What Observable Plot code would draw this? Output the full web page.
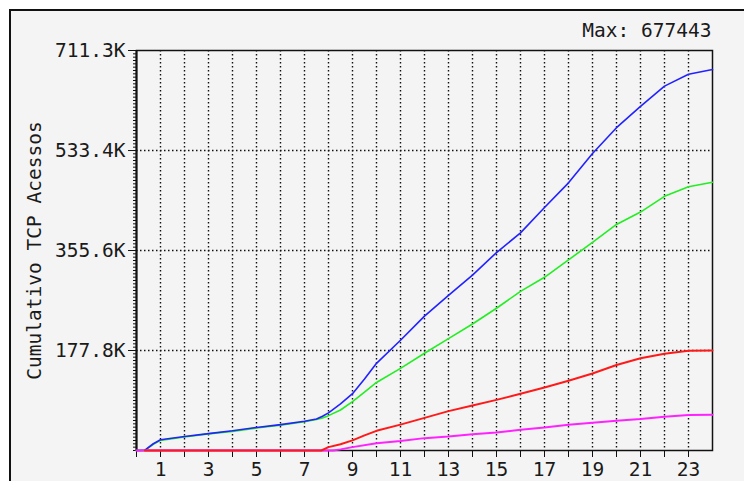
<!DOCTYPE html>
<html><head><meta charset="utf-8">
<script src="https://cdn.jsdelivr.net/npm/d3@7"></script>
<script src="https://cdn.jsdelivr.net/npm/@observablehq/plot@0.6"></script>
<style>
html,body{margin:0;padding:0;background:#fff;overflow:hidden;width:744px;height:481px;}
#panel{position:absolute;left:9px;top:9px;width:800px;height:600px;background:#f4f4f4;border-left:2.5px solid #111;border-top:2.5px solid #111;}
#chart{position:absolute;left:0;top:0;}
</style></head><body>
<div id="panel"></div><div id="chart"></div>
<script>
// values in thousands of accesses, cumulative by hour of day
const totalHours = [0, 0.35, 0.7, 1, 2, 3, 4, 5, 6, 7, 7.5, 7.75, 8, 8.5, 9, 9.5, 10, 11, 12, 13, 14, 15, 16, 17, 18, 19, 20, 21, 22, 23, 24];
const blueValues  = [0, 0.5, 12, 19, 25, 30, 35, 41, 46, 52, 56, 61, 67, 83, 101, 127, 155, 196, 239, 276, 312, 352, 387, 432, 476, 528, 574, 612, 648, 669, 677.443];
const greenValues = [0, 0.3, 11, 18, 24, 29.5, 34, 40, 45, 51, 55, 58, 62, 72, 87, 104, 121, 146, 173, 199, 225, 253, 283, 308, 339, 370, 402, 424, 452, 469, 477];
const redHours  = [0.35, 7.7, 8, 8.5, 9, 9.5, 10, 11, 12, 13, 14, 15, 16, 17, 18, 19, 20, 21, 22, 23, 24];
const redValues = [0, 0, 6, 11, 18, 27, 35, 46, 58, 70, 80, 90, 101, 112, 124, 137, 152, 164, 172, 177.5, 177.8];
const magentaHours  = [0, 8.2, 8.5, 9, 10, 11, 12, 13, 14, 15, 16, 17, 18, 19, 20, 21, 22, 23, 24];
const magentaValues = [0, 0, 2, 6, 13, 17, 22, 25, 29, 32, 37, 41, 46, 49.5, 53, 56, 60, 63, 63.5];

const seriesColors = {green: "#22ee22", blue: "#2222ff", magenta: "#ff22ff", red: "#ff1a1a"};
const yTickValues = [177800, 355600, 533400, 711300];
const yTickLabels = ["177.8K", "355.6K", "533.4K", "711.3K"];
const xTickValues = d3.range(0, 24);
const yMinorTicks = d3.range(0, 121).map(k => k * 711300 / 120);
const yTitle = "Cumulativo TCP Acessos";
const maxValue = 677443;

function rowsOf(name, hs, vs) { return hs.map((h, i) => ({series: name, hour: h, value: vs[i] * 1000})); }
const green = rowsOf("green", totalHours, greenValues);
const blue = rowsOf("blue", totalHours, blueValues);
const magenta = rowsOf("magenta", magentaHours, magentaValues);
const red = rowsOf("red", redHours, redValues);

const gridStyle = {stroke: "#111", strokeOpacity: 1, strokeWidth: 1.4, strokeDasharray: "1.5,2.5"};
const font = "'DejaVu Sans Mono', monospace";

const chart = Plot.plot({
  width: 744, height: 481,
  marginLeft: 136, marginRight: 32, marginTop: 50, marginBottom: 31,
  style: {fontFamily: font, fontSize: "19.5px", background: "transparent", color: "#1a1a1a", overflow: "visible"},
  x: {domain: [0, 24]},
  y: {domain: [0, 711300]},
  marks: [
    Plot.gridX(d3.range(1, 24), gridStyle),
    Plot.gridY(yTickValues.slice(0, 3), gridStyle),
    Plot.frame({stroke: "#111", strokeWidth: 1.5}),
    Plot.ruleX([0], {stroke: "#111", strokeWidth: 2}),
    Plot.axisY(yMinorTicks, {tickSize: 3, tickFormat: () => "", label: null, stroke: "#111"}),
    Plot.axisY(yTickValues, {tickSize: 8, tickPadding: 3, stroke: "#111",
      tickFormat: d => yTickLabels[yTickValues.indexOf(d)],
      label: yTitle, labelAnchor: "center", labelArrow: "none", labelOffset: 109}),
    Plot.axisX(xTickValues, {tickSize: 7, tickPadding: 5, stroke: "#111",
      tickFormat: d => (d % 2 ? String(d) : ""), label: null}),
    Plot.line(green, {x: "hour", y: "value", stroke: seriesColors.green, strokeWidth: 1.6}),
    Plot.line(blue, {x: "hour", y: "value", stroke: seriesColors.blue, strokeWidth: 1.6}),
    Plot.line(magenta, {x: "hour", y: "value", stroke: seriesColors.magenta, strokeWidth: 2}),
    Plot.line(red, {x: "hour", y: "value", stroke: seriesColors.red, strokeWidth: 2}),
    Plot.text([`Max: ${maxValue}`], {frameAnchor: "top-right", dx: -1, dy: -19.5, lineAnchor: "middle",
      fontFamily: font, fill: "#1a1a1a"})
  ]
});
document.getElementById("chart").appendChild(chart);
</script></body></html>
